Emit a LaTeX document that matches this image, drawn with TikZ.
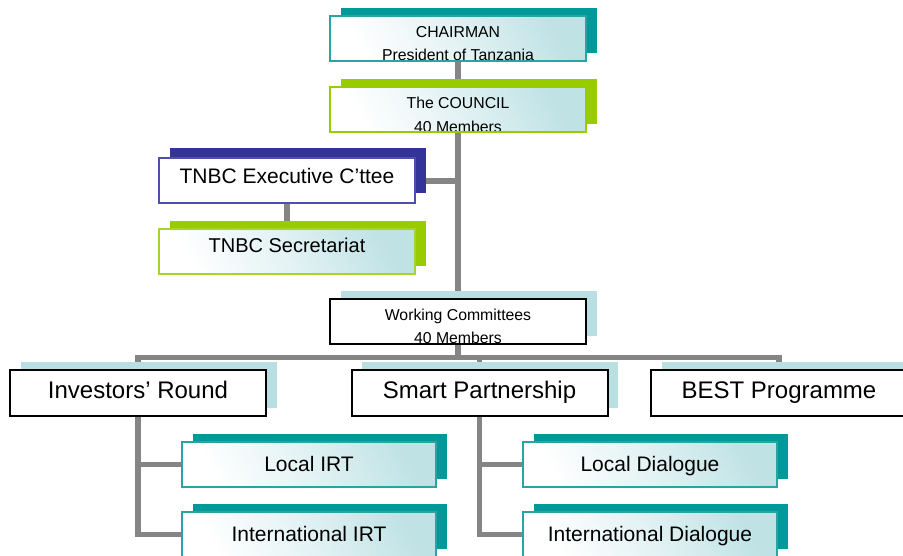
\documentclass[tikz,border=0pt]{standalone}
\usepackage{fontspec}
\setmainfont{Liberation Sans}
\usetikzlibrary{shadows,backgrounds}

\definecolor{tealdk}{HTML}{009999}
\definecolor{tealln}{HTML}{2AA3A3}
\definecolor{leaf}{HTML}{99CC00}
\definecolor{leafln}{HTML}{A6D42A}
\definecolor{navy}{HTML}{333399}
\definecolor{navyln}{HTML}{5050AA}
\definecolor{pale}{HTML}{B8DFE2}
\definecolor{glow}{HTML}{BFE2E5}
\definecolor{link}{HTML}{858585}

\newcommand\smallsize{\fontsize{15.8}{18}\selectfont}
\newcommand\midsize{\fontsize{21}{24}\selectfont}
\newcommand\bigsize{\fontsize{24}{28}\selectfont}

\tikzset{
  box/.style={rectangle, inner sep=0pt, line width=2pt,
    minimum width=256pt, minimum height=45pt},
  subbox/.style={box, minimum width=254pt, font=\midsize,
    text height=15pt, text depth=1pt},
  wide/.style={box, minimum height=46pt, font=\bigsize,
    text height=17.2pt, text depth=6pt},
  glowfill/.style={shading=axis, top color=glow, bottom color=white,
    middle color=glow!45!white, shading angle=-62},
  boxshadow/.style={general shadow={fill=#1, shadow xshift=10.5pt,
    shadow yshift=8pt}},
  deepshadow/.style={general shadow={fill=#1, shadow xshift=10.5pt,
    shadow yshift=10.5pt}},
  pair/.style 2 args={path picture={
    \node (upper line) [anchor=base, inner sep=0pt, font=\smallsize]
      at ([yshift=-21.5pt]path picture bounding box.north) {#1};
    \node (lower line) [anchor=base, inner sep=0pt, font=\smallsize]
      at ([yshift=-45pt]path picture bounding box.north) {#2};}},
  connector/.style={draw=link, line width=5.5pt}
}

\begin{document}
\begin{tikzpicture}[x=1pt, y=-1pt]
\useasboundingbox (0,0) rectangle (903,556);

% top of the hierarchy
\node (chair) [box, draw=tealln, glowfill, boxshadow=tealdk,
  pair={CHAIRMAN}{President of Tanzania}] at (458,38.5) {};
\node (council) [box, draw=leaf, glowfill, boxshadow=leaf,
  pair={The COUNCIL}{40 Members}] at (458,110) {};

% executive branch
\node (exec) [box, draw=navyln, fill=white, deepshadow=navy, font=\midsize,
  text height=15pt, text depth=10pt] at (287,181) {TNBC Executive C’ttee};
\node (secr) [box, draw=leafln, glowfill, boxshadow=leaf,
  font=\fontsize{20}{24}\selectfont, text height=14.3pt, text depth=12pt]
  at (287,251.5) {TNBC Secretariat};

% working committees
\node (wc) [box, draw=black, fill=white, boxshadow=pale,
  pair={Working Committees}{40 Members}] at (458,321.5) {};

% committee streams
\node (inv) [wide, draw=black, fill=white, boxshadow=pale] at (138,393)
  {Investors’ Round};
\node (smart) [wide, draw=black, fill=white, boxshadow=pale] at (479.5,393)
  {Smart Partnership};
\node (best) [wide, draw=black, fill=white, boxshadow=pale] at (779,393)
  {BEST Programme};

% round tables and dialogues
\node (lirt) [subbox, draw=tealln, glowfill, boxshadow=tealdk] at (309,464.5)
  {Local IRT};
\node (iirt) [subbox, draw=tealln, glowfill, boxshadow=tealdk] at (309,534.5)
  {International IRT};
\node (ldia) [subbox, draw=tealln, glowfill, boxshadow=tealdk] at (650,464.5)
  {Local Dialogue};
\node (idia) [subbox, draw=tealln, glowfill, boxshadow=tealdk] at (650,534.5)
  {International Dialogue};

\coordinate (bus) at (458,357.5);

% connectors behind the boxes
\begin{scope}[on background layer]
  \draw[connector] (chair.south) -- (council.north);
  \draw[connector] (council.south) -- (wc.north);
  \draw[connector] (exec.east) -- (exec.east -| council.south);
  \draw[connector] (exec.south) -- (secr.north);
  \draw[connector] (wc.south) -- (bus);
  \draw[connector] (inv.north) |- (bus) -| (best.north);
  \draw[connector] (smart.north) -- (smart.north |- bus);
  \draw[connector] (inv.south) |- (lirt.west);
  \draw[connector] (inv.south) |- (iirt.west);
  \draw[connector] (smart.south) |- (ldia.west);
  \draw[connector] (smart.south) |- (idia.west);
\end{scope}
\end{tikzpicture}
\end{document}
